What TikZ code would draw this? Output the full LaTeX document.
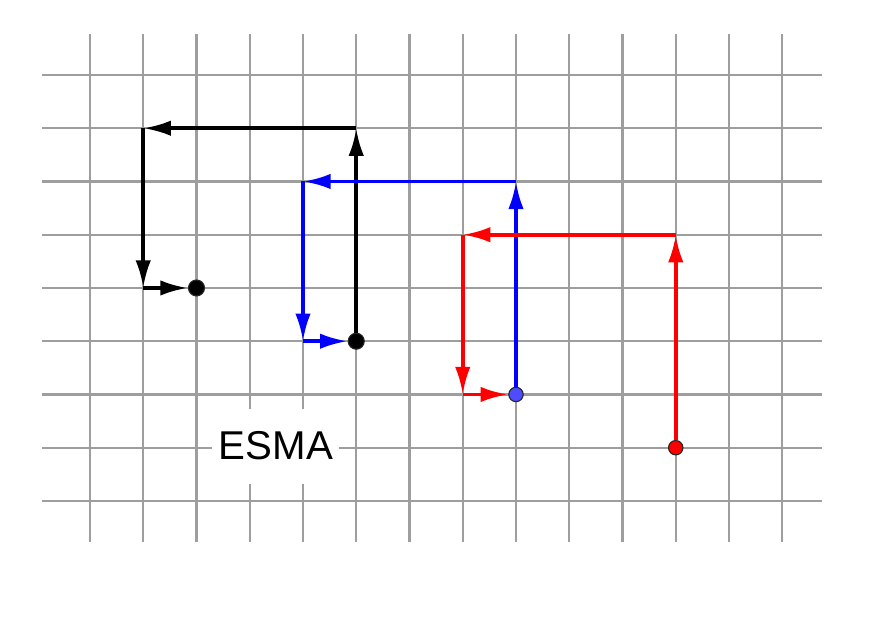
\documentclass[tikz,border=0pt]{standalone}
\usepackage{fontspec}
\setmainfont{Liberation Sans}
\usetikzlibrary{arrows.meta}
\definecolor{pointblue}{RGB}{77,77,255}

\begin{document}
\begin{tikzpicture}
			\tikzset{gridline/.style = {draw=black!38, line width=1.1pt}}
			\tikzset{point/.style = {shape=circle, inner sep=0pt, minimum size=0.27cm, draw=black!85, line width=0.6pt}}
			\tikzset{vec/.style = {line width=2pt, -{Latex[length=0.52cm,width=0.29cm]}}}
			\useasboundingbox (-1.690,-2.235) rectangle (14.836,9.408);
			% grid
			\foreach \i in {0,...,13} \draw[gridline] (\i,-0.77) -- (\i,8.77);
			\foreach \j in {0,...,8} \draw[gridline] (-0.9,\j) -- (13.75,\j);
			\node[fill=white, minimum width=2.38cm, minimum height=1.41cm, font=\fontsize{21.5}{26}\selectfont] (esma) at (3.49,1.03) {ESMA};
			% points
			\node[point, fill=black, minimum size=0.3cm] (b0) at (5, 3) {};
			\node[point, fill=black, minimum size=0.3cm] (b4) at (2, 4) {};
			\node[point, fill=pointblue] (u0) at (8, 2) {};
			\node[point, fill=red] (r0) at (11, 1) {};
			\coordinate (b1) at (5, 7);
			\coordinate (b2) at (1, 7);
			\coordinate (b3) at (1, 4);
			\coordinate (u1) at (8, 6);
			\coordinate (u2) at (4, 6);
			\coordinate (u3) at (4, 3);
			\coordinate (r1) at (11, 5);
			\coordinate (r2) at (7, 5);
			\coordinate (r3) at (7, 2);
			% vectors
			\draw[vec, black] (b0) -- (b1);
			\draw[vec, black] (b1) -- (b2);
			\draw[vec, black] (b2) -- (b3);
			\draw[vec, black] (b3) -- (b4);
			\draw[vec, blue] (u0) -- (u1);
			\draw[vec, blue] (u1) -- (u2);
			\draw[vec, blue] (u2) -- (u3);
			\draw[vec, blue] (u3) -- (b0);
			\draw[vec, red] (r0) -- (r1);
			\draw[vec, red] (r1) -- (r2);
			\draw[vec, red] (r2) -- (r3);
			\draw[vec, red] (r3) -- (u0);
		\end{tikzpicture}
\end{document}
